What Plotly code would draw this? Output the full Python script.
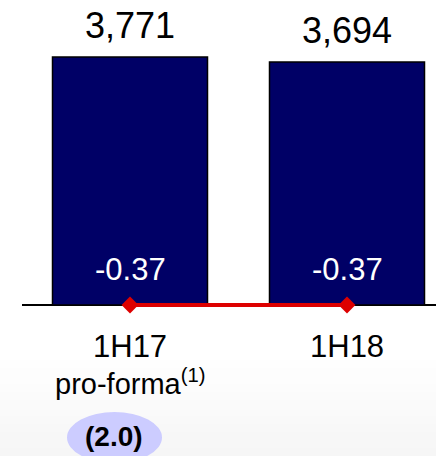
import plotly.graph_objects as go

# ---- data ----
categories = ["1H17", "1H18"]
bar_values = [3771, 3694]
bar_labels = ["3,771", "3,694"]
line_values = [-0.37, -0.37]
line_labels = ["-0.37", "-0.37"]
cat_line1 = ["1H17", "1H18"]
cat_line2 = ["pro-forma<sup>(1)</sup>", ""]
badge_text = "<b>(2.0)</b>"

FONT = "Arial, Liberation Sans, sans-serif"
W, H = 436, 456
ML, MT = 22, 0
PLOT_H = 315
MB = H - PLOT_H
BASE_PX = 305          # pixel of value 0
TOP_PX = 57            # pixel of first bar top
K = (BASE_PX - TOP_PX) / bar_values[0]   # px per unit
Y_RANGE = [-(PLOT_H - BASE_PX) / K, BASE_PX / K]
UNIT = 217             # px between category centres
C0 = 130               # px of first category centre
X_RANGE = [-(C0 - ML) / UNIT, 1 + (W - (C0 + UNIT)) / UNIT]


def px_to_paper_x(px):
    return (px - ML) / (W - ML)


def px_to_paper_y(py):
    return (PLOT_H - py) / PLOT_H


fig = go.Figure()
fig.add_trace(go.Bar(
    x=categories, y=bar_values,
    width=155 / UNIT,
    marker=dict(color="#000066", line=dict(color="#000000", width=1.5)),
    hoverinfo="skip",
))
fig.add_trace(go.Scatter(
    x=categories, y=line_values, mode="lines+markers",
    line=dict(color="#dd0000", width=4),
    marker=dict(symbol="diamond", size=13, color="#dd0000"),
    cliponaxis=False, hoverinfo="skip",
))

annotations = []
for c, v, lab in zip(categories, bar_values, bar_labels):
    annotations.append(dict(x=c, y=v, xref="x", yref="y", text=lab, showarrow=False,
                            yanchor="bottom", yshift=9,
                            font=dict(family=FONT, size=36, color="#000000")))
for c, lab in zip(categories, line_labels):
    annotations.append(dict(x=c, y=0, xref="x", yref="y", text=lab, showarrow=False,
                            yanchor="bottom", yshift=16,
                            font=dict(family=FONT, size=31, color="#ffffff")))
for c, t in zip(categories, cat_line1):
    annotations.append(dict(x=c, y=0, xref="x", yref="y", text=t, showarrow=False,
                            yanchor="middle", yshift=-41,
                            font=dict(family=FONT, size=31, color="#000000")))
for c, t in zip(categories, cat_line2):
    if t:
        annotations.append(dict(x=c, y=0, xref="x", yref="y", text=t, showarrow=False,
                                yanchor="middle", yshift=-77,
                                font=dict(family=FONT, size=29, color="#000000")))
annotations.append(dict(x=categories[0], y=0, xref="x", yref="y", text=badge_text,
                        showarrow=False, yanchor="middle", yshift=-(436 - BASE_PX), xshift=-16,
                        font=dict(family=FONT, size=28, color="#000000")))

shapes = []
# soft grey gradient at the bottom
n = 12
g_top, g_bot = 360, H
for i in range(n):
    y0 = g_top + (g_bot - g_top) * i / n
    y1 = g_top + (g_bot - g_top) * (i + 1) / n
    v = int(round(254 - (254 - 246) * i / (n - 1)))
    shapes.append(dict(type="rect", xref="paper", yref="paper",
                       x0=px_to_paper_x(0), x1=px_to_paper_x(W),
                       y0=px_to_paper_y(y1), y1=px_to_paper_y(y0),
                       fillcolor=f"rgb({v},{v},{v})", line=dict(width=0), layer="below"))
# lavender badge ellipse
shapes.append(dict(type="circle", xref="paper", yref="paper",
                   x0=px_to_paper_x(67), x1=px_to_paper_x(162),
                   y0=px_to_paper_y(463), y1=px_to_paper_y(412),
                   fillcolor="#ccccff", line=dict(width=0), layer="above"))

fig.update_layout(
    width=W, height=H,
    margin=dict(l=ML, r=0, t=MT, b=MB),
    paper_bgcolor="#ffffff", plot_bgcolor="rgba(0,0,0,0)",
    showlegend=False,
    xaxis=dict(type="category", range=X_RANGE, showticklabels=False, showgrid=False,
               zeroline=False, showline=False, ticks=""),
    yaxis=dict(range=Y_RANGE, showticklabels=False, showgrid=False,
               zeroline=True, zerolinecolor="#000000", zerolinewidth=2, showline=False),
    annotations=annotations, shapes=shapes,
    font=dict(family=FONT),
)

fig.write_html("out.html")
